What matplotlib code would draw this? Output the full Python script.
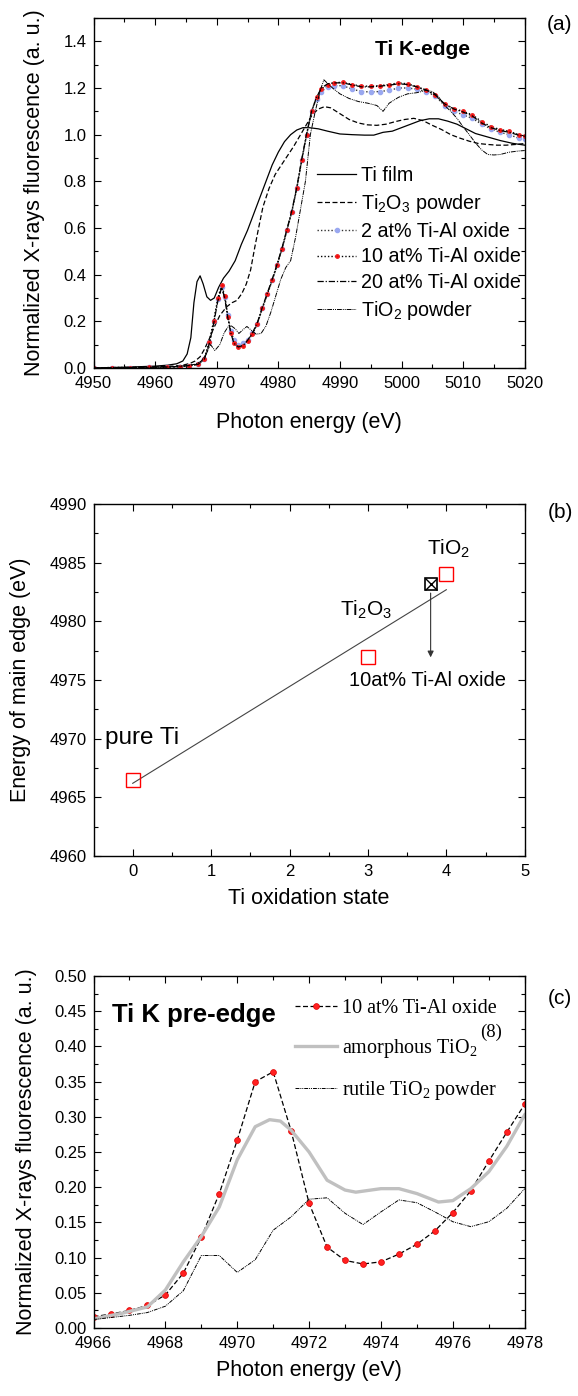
import matplotlib
matplotlib.use("Agg")
import matplotlib.pyplot as plt
from matplotlib.ticker import MultipleLocator, FormatStrFormatter
from matplotlib.font_manager import FontProperties

plt.rcParams["font.family"] = "Liberation Sans"
plt.rcParams["mathtext.fontset"] = "custom"
plt.rcParams["mathtext.rm"] = "Liberation Sans"
plt.rcParams["mathtext.it"] = "Liberation Sans:italic"
plt.rcParams["mathtext.default"] = "regular"

# ---------------- panel (a): Ti K-edge XANES ----------------
e_ti = [4950, 4955, 4960, 4962, 4963.5, 4964.5, 4965.2, 4965.8, 4966.3, 4966.8,
        4967.3, 4967.8, 4968.4, 4969, 4969.6, 4970.3, 4971.1, 4972, 4973, 4974,
        4975, 4976, 4977, 4978, 4979, 4980, 4981, 4982, 4983, 4984, 4985,
        4986.5, 4988, 4990, 4992, 4994, 4995.5, 4997, 4998.5, 5000, 5001.5,
        5003, 5004.5, 5006, 5007.5, 5009, 5010.5, 5012, 5014, 5016, 5018, 5020]
ti_film = [0.0, 0.003, 0.008, 0.012, 0.018, 0.03, 0.06, 0.13, 0.28, 0.37,
           0.395, 0.36, 0.305, 0.29, 0.3, 0.345, 0.385, 0.415, 0.46, 0.53,
           0.59, 0.66, 0.73, 0.80, 0.87, 0.925, 0.97, 1.0, 1.02, 1.03, 1.03,
           1.025, 1.015, 1.003, 1.0, 0.998, 0.998, 1.01, 1.015, 1.03, 1.045,
           1.06, 1.068, 1.068, 1.058, 1.045, 1.025, 1.005, 0.99, 0.975, 0.963, 0.955]

e_ti2o3 = [4950, 4955, 4960, 4963, 4964.5, 4965.7, 4966.5, 4967.3, 4968, 4968.8,
           4969.5, 4970.5, 4971.6, 4972.5, 4973.3, 4974.1, 4974.8, 4975.5, 4976.2,
           4976.8, 4977.5, 4978.5, 4979.5, 4980.5, 4981.5, 4982.5, 4983.5, 4984.5,
           4985.5, 4986.5, 4987.5, 4988.5, 4990, 4991.5, 4993, 4994.5, 4996,
           4997.5, 4999, 5000.5, 5002, 5003.5, 5005, 5006.5, 5008, 5009.5, 5011,
           5012.5, 5014, 5015.5, 5017, 5018.5, 5020]
ti2o3 = [0.0, 0.002, 0.005, 0.008, 0.012, 0.02, 0.03, 0.048, 0.08, 0.125,
         0.17, 0.225, 0.262, 0.28, 0.29, 0.32, 0.36, 0.42, 0.52, 0.6, 0.69,
         0.77, 0.83, 0.87, 0.91, 0.95, 0.995, 1.04, 1.085, 1.11, 1.12, 1.115,
         1.09, 1.065, 1.05, 1.042, 1.04, 1.045, 1.056, 1.065, 1.07, 1.06, 1.04,
         1.022, 1.0, 0.985, 0.972, 0.962, 0.958, 0.955, 0.955, 0.958, 0.962]

e_ox = [4950, 4953, 4956, 4959, 4962, 4964, 4965.5, 4967, 4968, 4968.8,
        4969.5, 4970.2, 4970.8, 4971.3, 4971.8, 4972.3, 4972.8, 4973.5, 4974.3,
        4975, 4975.8, 4976.6, 4977.4, 4978.2, 4979, 4979.8, 4980.6, 4981.4,
        4982.2, 4983, 4983.8, 4984.6, 4985.4, 4986.2, 4987, 4988, 4989, 4990.5,
        4992, 4993.5, 4995, 4996.5, 4998, 4999.5, 5001, 5002.5, 5004, 5005.5,
        5007, 5008.5, 5010, 5011.5, 5013, 5014.5, 5016, 5017.5, 5019, 5020]
ox_2 = [0.0, 0.002, 0.002, 0.003, 0.004, 0.006, 0.01, 0.016, 0.04, 0.11,
        0.2, 0.295, 0.345, 0.305, 0.225, 0.16, 0.118, 0.1, 0.105, 0.12,
        0.148, 0.19, 0.255, 0.315, 0.375, 0.44, 0.51, 0.59, 0.67, 0.77,
        0.89, 1.0, 1.1, 1.155, 1.185, 1.205, 1.21, 1.21, 1.195, 1.185, 1.183,
        1.185, 1.19, 1.2, 1.2, 1.195, 1.185, 1.165, 1.125, 1.1, 1.085, 1.07,
        1.045, 1.025, 1.01, 1.0, 0.985, 0.98]
ox_10 = [0.0, 0.002, 0.002, 0.003, 0.004, 0.006, 0.01, 0.016, 0.04, 0.11,
         0.2, 0.3, 0.355, 0.31, 0.22, 0.15, 0.108, 0.088, 0.095, 0.115,
         0.145, 0.19, 0.255, 0.315, 0.375, 0.44, 0.51, 0.59, 0.67, 0.77,
         0.89, 1.0, 1.1, 1.16, 1.195, 1.215, 1.222, 1.225, 1.215, 1.208, 1.208,
         1.21, 1.215, 1.222, 1.218, 1.205, 1.19, 1.17, 1.13, 1.112, 1.1, 1.085,
         1.056, 1.035, 1.022, 1.015, 1.0, 0.995]
ox_20 = [0.0, 0.002, 0.002, 0.003, 0.004, 0.006, 0.01, 0.016, 0.038, 0.105,
         0.19, 0.29, 0.345, 0.3, 0.215, 0.148, 0.106, 0.09, 0.097, 0.118,
         0.15, 0.195, 0.26, 0.32, 0.38, 0.445, 0.515, 0.595, 0.675, 0.775,
         0.895, 1.005, 1.1, 1.16, 1.2, 1.218, 1.222, 1.222, 1.213, 1.205, 1.205,
         1.208, 1.212, 1.218, 1.215, 1.205, 1.192, 1.17, 1.132, 1.11, 1.097,
         1.08, 1.05, 1.03, 1.018, 1.01, 0.998, 0.993]

e_tio2 = [4950, 4955, 4960, 4963, 4965, 4966.5, 4967.5, 4968.3, 4969, 4969.7,
          4970.5, 4971.2, 4971.8, 4972.4, 4973, 4973.6, 4974.3, 4974.9, 4975.6,
          4976.4, 4977.2, 4978, 4978.8, 4979.6, 4980.4, 4981.2, 4982, 4982.8,
          4983.6, 4984.4, 4985.2, 4986, 4986.8, 4987.4, 4988, 4988.8, 4990,
          4991.5, 4993, 4994.5, 4996, 4997, 4998, 4999.5, 5001, 5002.5, 5004,
          5005, 5006, 5007, 5008, 5009, 5010, 5011, 5012, 5013, 5014, 5015,
          5016, 5017.5, 5019, 5020]
tio2 = [0.0, 0.002, 0.004, 0.006, 0.01, 0.016, 0.03, 0.06, 0.1, 0.075,
        0.1, 0.15, 0.175, 0.18, 0.168, 0.148, 0.165, 0.178, 0.162, 0.145,
        0.148, 0.18, 0.24, 0.31, 0.38, 0.43, 0.46, 0.56, 0.68, 0.8, 1.0,
        1.1, 1.19, 1.235, 1.22, 1.2, 1.175, 1.155, 1.142, 1.135, 1.125, 1.1,
        1.135, 1.16, 1.175, 1.18, 1.19, 1.185, 1.163, 1.125, 1.1, 1.07, 1.034,
        1.0, 0.965, 0.935, 0.915, 0.913, 0.915, 0.925, 0.93, 0.932]

# ---------------- panel (b): edge position vs oxidation state ----------------
ox_state = [0, 3, 4]
edge_energy = [4966.5, 4977.0, 4984.0]
fit_x = [0, 4]
fit_y = [4966.2, 4982.7]
sample_x = 3.8
sample_y = 4983.2
sample_arrow_end = 4976.7

# ---------------- panel (c): pre-edge ----------------
e_pre = [4966, 4966.5, 4967, 4967.5, 4968, 4968.5, 4969, 4969.5, 4970, 4970.5,
         4971, 4971.5, 4972, 4972.5, 4973, 4973.5, 4974, 4974.5, 4975, 4975.5,
         4976, 4976.5, 4977, 4977.5, 4978]
pre_10 = [0.016, 0.020, 0.025, 0.032, 0.047, 0.078, 0.129, 0.191, 0.267, 0.350,
          0.364, 0.280, 0.177, 0.115, 0.096, 0.091, 0.094, 0.105, 0.119, 0.138,
          0.164, 0.195, 0.237, 0.278, 0.318]
e_amo = [4966, 4966.8, 4967.5, 4968, 4968.5, 4969, 4969.5, 4970, 4970.5, 4970.9,
         4971.2, 4971.5, 4972, 4972.5, 4973, 4973.3, 4974, 4974.5, 4975, 4975.6,
         4976, 4976.5, 4977, 4977.5, 4978]
pre_amo = [0.013, 0.021, 0.030, 0.054, 0.094, 0.130, 0.172, 0.239, 0.286, 0.296,
           0.294, 0.281, 0.250, 0.210, 0.196, 0.193, 0.198, 0.198, 0.191, 0.179,
           0.181, 0.198, 0.222, 0.258, 0.303]
pre_rutile = [0.012, 0.015, 0.018, 0.022, 0.031, 0.053, 0.103, 0.103, 0.079, 0.097,
              0.139, 0.158, 0.183, 0.185, 0.163, 0.147, 0.165, 0.182, 0.178, 0.165,
              0.151, 0.144, 0.151, 0.170, 0.198]


def style_axes(ax):
    ax.tick_params(which="both", direction="in", top=True, right=True,
                   labelsize=12, width=0.8)
    ax.tick_params(which="major", length=5)
    ax.tick_params(which="minor", length=3)
    ax.tick_params(axis="x", which="both", pad=5.5)
    ax.tick_params(axis="y", which="both", pad=5)
    for s in ax.spines.values():
        s.set_linewidth(1.0)


fig = plt.figure(figsize=(5.78, 13.96), dpi=100)
L, W = 0.1618, 0.746

# (a)
ax = fig.add_axes([L, 0.7364, W, 0.2507])
ax.plot(e_ti, ti_film, color="k", lw=0.9, label="Ti film")
ax.plot(e_ti2o3, ti2o3, color="k", lw=0.9, ls=(0, (4, 2)), label="Ti$_2$O$_3$ powder")
ax.plot(e_ox, ox_2, color="#333333", lw=1.0, ls=(0, (1, 1.5)), marker="o", ms=3,
        mfc="#9aa8f0", mec="#9aa8f0", label="2 at% Ti-Al oxide")
ax.plot(e_ox, ox_10, color="k", lw=1.0, ls=(0, (1, 1.5)), marker="o", ms=2.5,
        mfc="red", mec="#ee2222", label="10 at% Ti-Al oxide")
ax.plot(e_ox, ox_20, color="k", lw=0.9, ls=(0, (5, 1.5, 1, 1.5)), label="20 at% Ti-Al oxide")
ax.plot(e_tio2, tio2, color="k", lw=0.7, ls=(0, (5, 1, 1, 1, 1, 1)), label="TiO$_2$ powder")
ax.set_xlim(4950, 5020)
ax.set_ylim(0, 1.5)
ax.xaxis.set_major_locator(MultipleLocator(10))
ax.xaxis.set_minor_locator(MultipleLocator(5))
ax.yaxis.set_major_locator(MultipleLocator(0.2))
ax.yaxis.set_minor_locator(MultipleLocator(0.1))
style_axes(ax)
ax.set_xlabel("Photon energy (eV)", fontsize=15.5, labelpad=15.5)
ax.set_ylabel("Normalized X-rays fluorescence (a. u.)", fontsize=15.5, labelpad=13)
ax.text(5003.4, 1.367, "Ti K-edge", fontsize=15, fontweight="bold", ha="center", va="center")
ax.legend(loc="upper left", bbox_to_anchor=(0.518, 0.578), frameon=False, fontsize=14.2,
          handlelength=2.0, handletextpad=0.25, labelspacing=0.35, borderpad=0,
          borderaxespad=0, numpoints=1)

# (b)
ax = fig.add_axes([L, 0.3868, W, 0.2521])
ax.plot(fit_x, fit_y, color="#444444", lw=0.8)
ax.plot(ox_state, edge_energy, "s", ms=10, mfc="none", mec="red", mew=1.0)
ax.plot([sample_x], [sample_y], "s", ms=8.5, mfc="none", mec="k", mew=1.2)
ax.plot([sample_x], [sample_y], "x", ms=8.5, mec="k", mew=1.0)
ax.annotate("", xy=(sample_x, sample_arrow_end), xytext=(sample_x, sample_y - 0.55),
            arrowprops=dict(arrowstyle="-|>", color="#333333", lw=0.8, mutation_scale=9))
ax.text(-0.35, 4970.1, "pure Ti", fontsize=17.5, ha="left", va="center")
ax.text(2.64, 4981.0, "Ti$_2$O$_3$", fontsize=15, ha="left", va="center")
ax.text(3.76, 4986.2, "TiO$_2$", fontsize=15, ha="left", va="center")
ax.text(2.76, 4975.0, "10at% Ti-Al oxide", fontsize=14.5, ha="left", va="center")
ax.set_xlim(-0.5, 5)
ax.set_ylim(4960, 4990)
ax.xaxis.set_major_locator(MultipleLocator(1))
ax.xaxis.set_minor_locator(MultipleLocator(0.5))
ax.yaxis.set_major_locator(MultipleLocator(5))
ax.yaxis.set_minor_locator(MultipleLocator(2.5))
style_axes(ax)
ax.set_xlabel("Ti oxidation state", fontsize=15.5, labelpad=7)
ax.set_ylabel("Energy of main edge (eV)", fontsize=15.5, labelpad=13)

# (c)
ax = fig.add_axes([L, 0.0487, W, 0.2521])
ax.plot(e_pre, pre_10, color="k", lw=0.9, ls=(0, (4, 2)), marker="o", ms=4.2,
        mfc="#ff2020", mec="#dd0000", mew=0.5, label="10 at% Ti-Al oxide")
ax.plot(e_amo, pre_amo, color="#c0c0c0", lw=2.4, label="amorphous TiO$_2$")
ax.plot(e_pre, pre_rutile, color="k", lw=0.7, ls=(0, (4, 1, 1, 1, 1, 1)),
        label="rutile TiO$_2$ powder")
ax.set_xlim(4966, 4978)
ax.set_ylim(0, 0.5)
ax.xaxis.set_major_locator(MultipleLocator(2))
ax.xaxis.set_minor_locator(MultipleLocator(1))
ax.yaxis.set_major_locator(MultipleLocator(0.05))
ax.yaxis.set_minor_locator(MultipleLocator(0.025))
style_axes(ax)
ax.yaxis.set_major_formatter(FormatStrFormatter("%.2f"))
ax.set_xlabel("Photon energy (eV)", fontsize=15.5, labelpad=6.5)
ax.set_ylabel("Normalized X-rays fluorescence (a. u.)", fontsize=15.5, labelpad=12.5)
ax.text(4968.8, 0.445, "Ti K pre-edge", fontsize=18.5, fontweight="bold", ha="center", va="center")
legfont = FontProperties(family="Liberation Serif", size=14.5, math_fontfamily="stix")
ax.legend(loc="upper left", bbox_to_anchor=(0.467, 0.935), frameon=False, prop=legfont,
          handlelength=2.1, handletextpad=0.25, labelspacing=0.95, borderpad=0,
          borderaxespad=0, numpoints=1)
ax.text(4977.05, 0.42, "(8)", fontsize=13.5, family="Liberation Serif", ha="center", va="center")

fig.text(560 / 578, 1 - 25 / 1396, "(a)", fontsize=15, ha="center", va="center")
fig.text(560 / 578, 1 - 513 / 1396, "(b)", fontsize=15, ha="center", va="center")
fig.text(560 / 578, 1 - 998 / 1396, "(c)", fontsize=15, ha="center", va="center")

fig.savefig("out.png", dpi=100)
